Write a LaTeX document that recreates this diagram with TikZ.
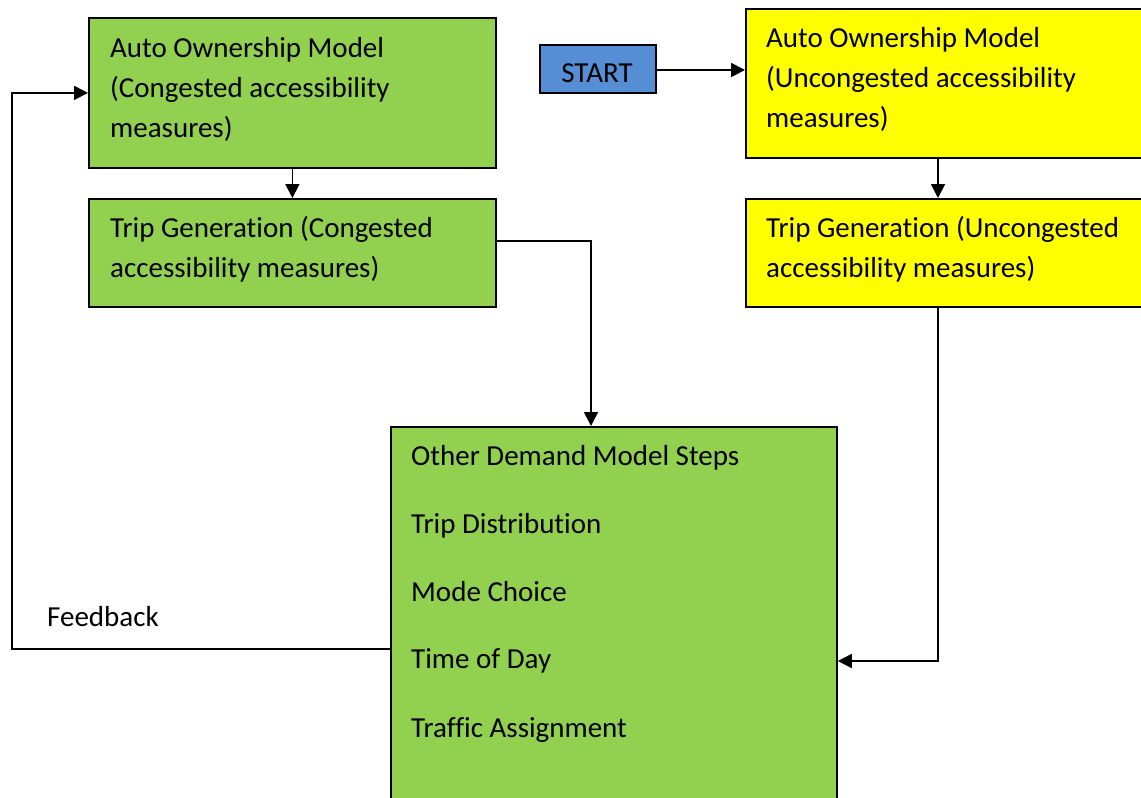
\documentclass[tikz,border=0pt]{standalone}
\usepackage{fontspec}
\setmainfont{Carlito}[Ligatures=NoCommon]
\usetikzlibrary{arrows.meta}
\definecolor{boxgreen}{HTML}{92D050}
\definecolor{boxyellow}{HTML}{FFFF00}
\definecolor{boxblue}{HTML}{558ED5}
\begin{document}
\begin{tikzpicture}[x=1pt,y=-1pt,
  box/.style={draw=black, line width=1.8pt, rectangle, inner sep=0pt, anchor=north west},
  txt/.style={anchor=base west, inner sep=0pt, font=\fontsize{29}{40}\selectfont},
  conn/.style={draw=black, line width=1.8pt, -{Triangle[length=14pt,width=14pt]}}]
\useasboundingbox (0,0) rectangle (1141,798);
\clip (0,0) rectangle (1141,798);

% boxes
\node[box, fill=boxgreen, minimum width=407pt, minimum height=150pt] (ao1) at (88,17) {};
\node[box, fill=boxgreen, minimum width=407pt, minimum height=108pt] (tg1) at (88,198) {};
\node[box, fill=boxblue, minimum width=116pt, minimum height=48pt] (start) at (539,44) {};
\node[box, fill=boxyellow, minimum width=420pt, minimum height=149pt] (ao2) at (745,8) {};
\node[box, fill=boxyellow, minimum width=420pt, minimum height=108pt] (tg2) at (745,198) {};
\node[box, fill=boxgreen, minimum width=446pt, minimum height=400pt] (steps) at (390,426) {};

% texts
\node[txt] (t1a) at (110,57) {Auto Ownership Model};
\node[txt] (t1b) at (110,97) {(Congested accessibility};
\node[txt] (t1c) at (110,137) {measures)};
\node[txt] (t2a) at (110,237) {Trip Generation (Congested};
\node[txt] (t2b) at (110,277) {accessibility measures)};
\node[txt, anchor=base] (t3) at (597,82) {START};
\node[txt] (t4a) at (766,47) {Auto Ownership Model};
\node[txt] (t4b) at (766,87) {(Uncongested accessibility};
\node[txt] (t4c) at (766,127) {measures)};
\node[txt] (t5a) at (766,237) {Trip Generation (Uncongested};
\node[txt] (t5b) at (766,277) {accessibility measures)};
\node[txt] (s1) at (411,465) {Other Demand Model Steps};
\node[txt] (s2) at (411,533) {Trip Distribution};
\node[txt] (s3) at (411,601) {Mode Choice};
\node[txt] (s4) at (411,668) {Time of Day};
\node[txt] (s5) at (411,737) {Traffic Assignment};
\node[txt] (fb) at (47,626) {Feedback};

% routing coordinates
\coordinate (xL) at (591,241);
\coordinate (xR) at (938,661);
\coordinate (xF) at (12,649);
\coordinate (yS) at (0,70);

% connectors
\draw[conn] (ao1.south) -- (tg1.north);
\draw[conn] (tg1.east |- xL) -| (steps.north -| xL);
\draw[conn] (start.east |- yS) -- (ao2.west |- yS);
\draw[conn] (ao2.south -| xR) -- (tg2.north -| xR);
\draw[conn] (tg2.south -| xR) |- (steps.east |- xR);
\draw[conn] (steps.west |- xF) -| (xF) |- (ao1.west);
\end{tikzpicture}
\end{document}
